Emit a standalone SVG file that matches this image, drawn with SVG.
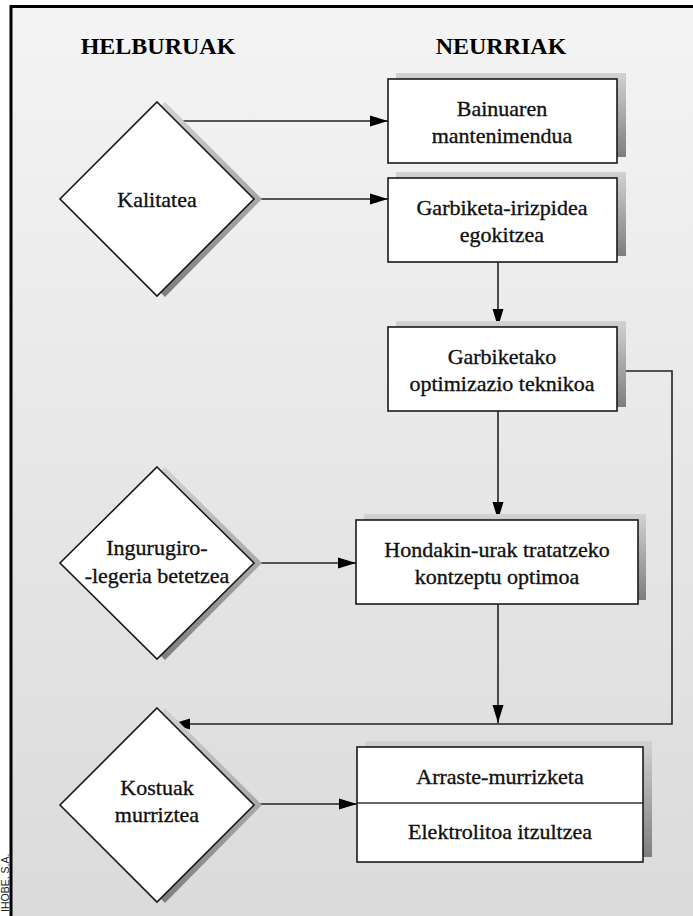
<svg xmlns="http://www.w3.org/2000/svg" width="693" height="916" viewBox="0 0 693 916">
<defs>
<linearGradient id="bg" x1="0" y1="0" x2="0" y2="1">
<stop offset="0" stop-color="#f4f4f4"/>
<stop offset="1" stop-color="#dadada"/>
</linearGradient>
<linearGradient id="sh" x1="0" y1="0" x2="0" y2="1">
<stop offset="0" stop-color="#d2d2d2"/>
<stop offset="1" stop-color="#7e7e7e"/>
</linearGradient>
<marker id="ah" markerUnits="userSpaceOnUse" markerWidth="19" markerHeight="12" refX="18" refY="6" orient="auto">
<path d="M0,0.5 L18,6 L0,11.5 z" fill="#000"/>
</marker>
<style>
.box{fill:#fff;stroke:#1a1a1a;stroke-width:1.6}
.shd{fill:url(#sh)}
.t{font-family:"Liberation Serif",serif;font-size:22px;fill:#111;stroke:#111;stroke-width:0.35;text-anchor:middle}
.h{font-family:"Liberation Serif",serif;font-size:24px;font-weight:bold;fill:#000;text-anchor:middle}
.ln{fill:none;stroke:#222;stroke-width:1.6}
.ar{marker-end:url(#ah)}
</style>
</defs>
<rect x="0" y="0" width="693" height="916" fill="#fff"/>
<rect x="11" y="6.5" width="700" height="930" fill="url(#bg)" stroke="#000" stroke-width="3"/>
<text transform="translate(8.5,912) rotate(-90)" font-family="'Liberation Sans',sans-serif" font-size="10.5" fill="#222">IHOBE, S.A.</text>

<text class="h" x="158" y="54">HELBURUAK</text>
<text class="h" x="501" y="54">NEURRIAK</text>

<g id="connectors">
<line class="ln ar" x1="176" y1="121" x2="388" y2="121"/>
<line class="ln ar" x1="254" y1="199" x2="388" y2="199"/>
<line class="ln ar" x1="498" y1="262" x2="498" y2="327"/>
<line class="ln ar" x1="498" y1="411" x2="498" y2="520"/>
<line class="ln ar" x1="254" y1="563" x2="356" y2="563"/>
<line class="ln ar" x1="498" y1="604" x2="498" y2="723"/>
<polyline class="ln ar" points="617,371 672,371 672,724 172,724"/>
<line class="ln ar" x1="254" y1="804" x2="357" y2="804"/>
</g>

<g id="kalitatea">
<polygon class="shd" points="165,102 262,199 165,297 68,199"/>
<polygon class="box" points="157,102 254,199 157,296 60,199"/>
<text class="t" x="157" y="207">Kalitatea</text>
</g>

<g id="ingurugiro">
<polygon class="shd" points="165,467 262,563 165,660 68,563"/>
<polygon class="box" points="157,467 254,563 157,659 60,563"/>
<text class="t" x="157" y="555">Ingurugiro-</text>
<text class="t" x="157" y="583">-legeria betetzea</text>
</g>

<g id="kostuak">
<polygon class="shd" points="165,708 262,805 165,903 68,805"/>
<polygon class="box" points="157,708 254,805 157,902 60,805"/>
<text class="t" x="157" y="795">Kostuak</text>
<text class="t" x="157" y="822">murriztea</text>
</g>

<g id="bainuaren">
<rect class="shd" x="396" y="73" width="230" height="84"/>
<rect class="box" x="388" y="79" width="229" height="84"/>
<text class="t" x="502" y="116">Bainuaren</text>
<text class="t" x="502" y="143">mantenimendua</text>
</g>

<g id="garbiketa-irizpidea">
<rect class="shd" x="396" y="172" width="230" height="84"/>
<rect class="box" x="388" y="178" width="229" height="84"/>
<text class="t" x="502" y="215">Garbiketa-irizpidea</text>
<text class="t" x="502" y="242">egokitzea</text>
</g>

<g id="garbiketako-optimizazio">
<rect class="shd" x="396" y="321" width="230" height="86"/>
<rect class="box" x="388" y="327" width="229" height="84"/>
<text class="t" x="502" y="364">Garbiketako</text>
<text class="t" x="502" y="391">optimizazio teknikoa</text>
</g>

<g id="hondakin-urak">
<rect class="shd" x="364" y="514" width="282" height="86"/>
<rect class="box" x="356" y="520" width="282" height="84"/>
<text class="t" x="497" y="557">Hondakin-urak tratatzeko</text>
<text class="t" x="497" y="584">kontzeptu optimoa</text>
</g>

<g id="arraste-elektrolitoa">
<rect class="shd" x="365" y="741" width="287" height="116"/>
<rect class="box" x="357" y="747" width="286" height="115"/>
<line x1="357" y1="803" x2="643" y2="803" stroke="#333" stroke-width="1.6"/>
<text class="t" x="500" y="784">Arraste-murrizketa</text>
<text class="t" x="500" y="839">Elektrolitoa itzultzea</text>
</g>
</svg>
